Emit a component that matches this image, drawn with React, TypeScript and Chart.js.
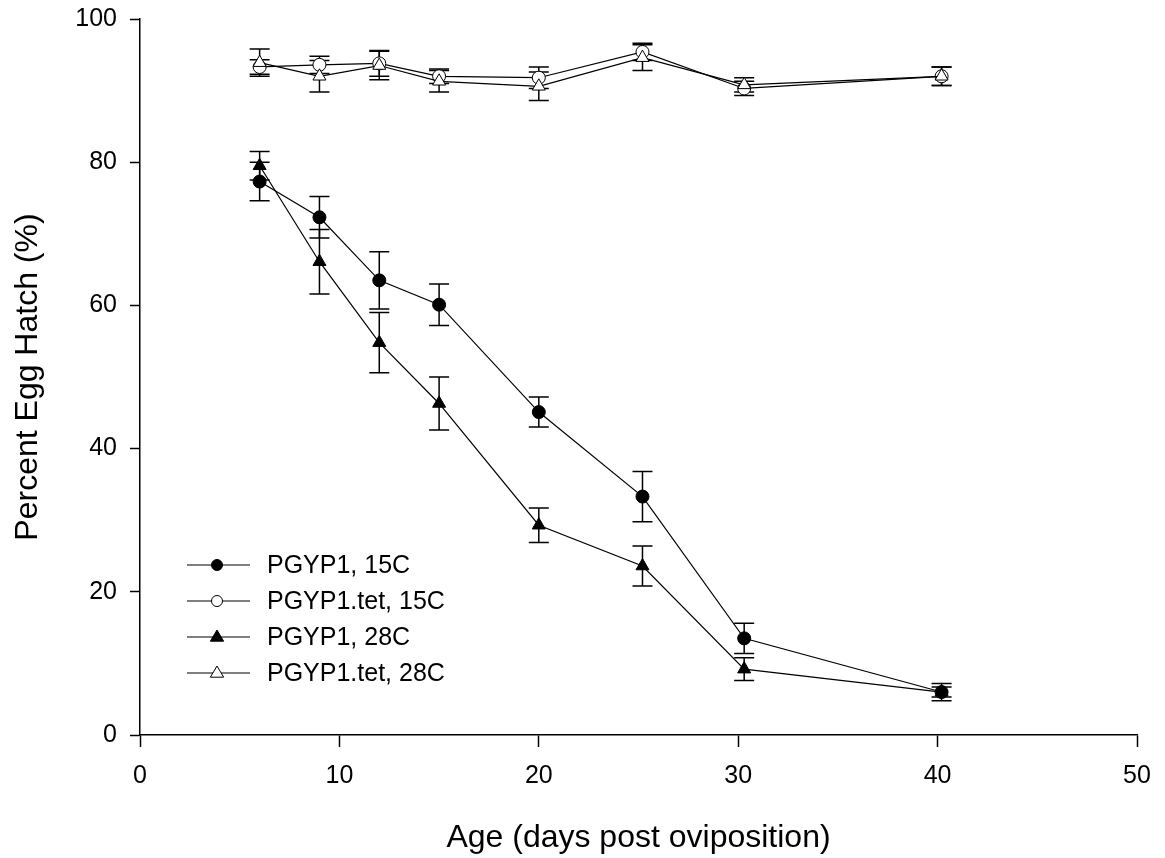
import React, { useEffect, useRef } from "react";
import { Chart, registerables } from "chart.js";

Chart.register(...registerables);

const days = [6, 9, 12, 15, 20, 25.2, 30.3, 40.2];

const pgyp15 = [77.3, 72.3, 63.5, 60.1, 45.1, 33.3, 13.5, 6.0];
const pgyp15Err = [2.7, 2.9, 4.0, 2.9, 2.1, 3.5, 2.1, 1.2];

const tet15 = [93.3, 93.6, 93.8, 92.0, 91.8, 95.4, 90.3, 92.0];
const tet15Err = [1.0, 1.2, 1.8, 1.0, 1.5, 1.2, 1.0, 1.3];

const pgyp28 = [79.5, 66.1, 54.8, 46.3, 29.3, 23.6, 9.2, 6.0];
const pgyp28Err = [2.0, 4.5, 4.2, 3.7, 2.4, 2.8, 1.6, 0.7];

const tet28 = [93.9, 92.0, 93.5, 91.3, 90.6, 94.6, 90.8, 92.0];
const tet28Err = [1.9, 2.2, 2.0, 1.5, 2.0, 1.8, 1.0, 1.3];

const seriesLabels = ["PGYP1, 15C", "PGYP1.tet, 15C", "PGYP1, 28C", "PGYP1.tet, 28C"];
const xTitle = "Age (days post oviposition)";
const yTitle = "Percent Egg Hatch (%)";

const FONT = "'Liberation Sans', Arial, sans-serif";

type Spec = { label: string; values: number[]; errs: number[]; style: string; filled: boolean; order: number };

const specs: Spec[] = [
  { label: seriesLabels[0], values: pgyp15, errs: pgyp15Err, style: "circle", filled: true, order: 2 },
  { label: seriesLabels[1], values: tet15, errs: tet15Err, style: "circle", filled: false, order: 1 },
  { label: seriesLabels[2], values: pgyp28, errs: pgyp28Err, style: "triangle", filled: true, order: 2 },
  { label: seriesLabels[3], values: tet28, errs: tet28Err, style: "triangle", filled: false, order: 0 },
];

const errorBarPlugin = {
  id: "errorBars",
  beforeDatasetsDraw(chart: any) {
    const ctx = chart.ctx;
    const yScale = chart.scales.y;
    ctx.save();
    ctx.strokeStyle = "#000";
    ctx.lineWidth = 1.5;
    chart.data.datasets.forEach((ds: any, i: number) => {
      const meta = chart.getDatasetMeta(i);
      const errs: number[] = ds.errs || [];
      meta.data.forEach((pt: any, j: number) => {
        const v = ds.data[j].y;
        const e = errs[j] || 0;
        const x = pt.x;
        const yt = yScale.getPixelForValue(v + e);
        const yb = yScale.getPixelForValue(v - e);
        const cap = 10;
        ctx.beginPath();
        ctx.moveTo(x, yt);
        ctx.lineTo(x, yb);
        ctx.moveTo(x - cap, yt);
        ctx.lineTo(x + cap, yt);
        ctx.moveTo(x - cap, yb);
        ctx.lineTo(x + cap, yb);
        ctx.stroke();
      });
    });
    ctx.restore();
  },
};

const legendPlugin = {
  id: "customLegend",
  afterDraw(chart: any) {
    const ctx = chart.ctx;
    ctx.save();
    const rows = [565, 601, 637, 673];
    specs.forEach((s, i) => {
      const y = rows[i];
      ctx.strokeStyle = "#000";
      ctx.lineWidth = 1.2;
      ctx.beginPath();
      ctx.moveTo(187, y);
      ctx.lineTo(250, y);
      ctx.stroke();
      ctx.fillStyle = s.filled ? "#000" : "#fff";
      ctx.lineWidth = 1;
      ctx.beginPath();
      if (s.style === "circle") {
        ctx.arc(217, y, 5.5, 0, Math.PI * 2);
      } else {
        const r = 7;
        ctx.moveTo(217, y - r);
        ctx.lineTo(217 + r * 0.95, y + r * 0.6);
        ctx.lineTo(217 - r * 0.95, y + r * 0.6);
        ctx.closePath();
      }
      ctx.fill();
      ctx.stroke();
      ctx.fillStyle = "#000";
      ctx.font = `25px ${FONT}`;
      ctx.textAlign = "left";
      ctx.textBaseline = "middle";
      ctx.fillText(s.label, 267, y + 1);
    });
    ctx.restore();
  },
};

export default function App() {
  const ref = useRef<HTMLCanvasElement | null>(null);
  useEffect(() => {
    if (!ref.current) return;
    const chart = new Chart(ref.current, {
      type: "line",
      data: {
        datasets: specs.map((s) => ({
          label: s.label,
          data: days.map((d, i) => ({ x: d, y: s.values[i] })),
          errs: s.errs,
          order: s.order,
          borderColor: "#000",
          borderWidth: 1.2,
          pointStyle: s.style,
          pointRadius: s.style === "circle" ? 6.5 : 7.5,
          pointBackgroundColor: s.filled ? "#000" : "#fff",
          pointBorderColor: "#000",
          pointBorderWidth: 1,
          fill: false,
          tension: 0,
        })) as any,
      },
      options: {
        animation: false,
        responsive: false,
        devicePixelRatio: 1,
        layout: { padding: { left: 0, right: 28, top: 19, bottom: 0 } },
        plugins: {
          legend: { display: false },
          tooltip: { enabled: false },
        },
        scales: {
          x: {
            type: "linear",
            min: 0,
            max: 50,
            afterFit: (scale: any) => {
              scale.height = 123;
              scale.paddingLeft = 0;
              scale.paddingRight = 0;
            },
            ticks: {
              stepSize: 10,
              color: "#000",
              font: { family: FONT, size: 25 },
              padding: 14,
            },
            grid: {
              drawOnChartArea: false,
              drawTicks: true,
              tickLength: 12,
              color: "#000",
              tickWidth: 1.5,
            },
            border: { display: true, color: "#000", width: 1.5 },
            title: {
              display: true,
              text: xTitle,
              color: "#000",
              font: { family: FONT, size: 32, lineHeight: 1 },
              padding: { top: 0, bottom: 4 },
            },
          },
          y: {
            type: "linear",
            min: 0,
            max: 100,
            afterFit: (scale: any) => {
              scale.width = 140;
              scale.paddingTop = 0;
              scale.paddingBottom = 0;
            },
            ticks: {
              stepSize: 20,
              color: "#000",
              font: { family: FONT, size: 25 },
              padding: 13,
            },
            grid: {
              drawOnChartArea: false,
              drawTicks: true,
              tickLength: 10,
              color: "#000",
              tickWidth: 1.5,
            },
            border: { display: true, color: "#000", width: 1.5 },
            title: {
              display: true,
              text: yTitle,
              color: "#000",
              font: { family: FONT, size: 32, lineHeight: 1 },
              padding: { top: 12, bottom: 0 },
            },
          },
        },
      },
      plugins: [errorBarPlugin, legendPlugin],
    });
    return () => chart.destroy();
  }, []);
  return (
    <div style={{ position: "fixed", left: 0, top: 0, width: 1165, height: 858, background: "#fff" }}>
      <canvas ref={ref} width={1165} height={858} style={{ display: "block" }} />
    </div>
  );
}
